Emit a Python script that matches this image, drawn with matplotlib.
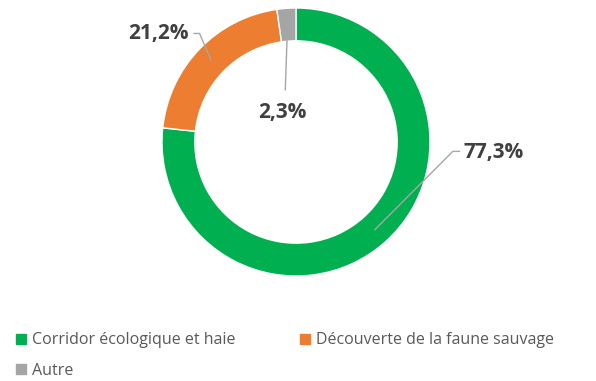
import matplotlib.pyplot as plt
import numpy as np
from matplotlib.lines import Line2D

categories = ['Corridor écologique et haie', 'Découverte de la faune sauvage', 'Autre']
values = [77.3, 21.2, 2.3]
labels = ['77,3%', '21,2%', '2,3%']
colors = ['#00B050', '#ED7D31', '#A5A5A5']

plt.rcParams['font.family'] = ['Open Sans', 'DejaVu Sans']

fig = plt.figure(figsize=(5.96, 3.81), dpi=100)
ax = fig.add_axes([162 / 596, 105 / 381, 268 / 596, 268 / 381])

wedges, _ = ax.pie(values, colors=colors, startangle=90, counterclock=False,
                   radius=1, wedgeprops=dict(width=0.245, edgecolor='white', linewidth=1))
ax.set_xlim(-1, 1)
ax.set_ylim(-1, 1)
ax.set_aspect('equal')
ax.axis('off')

# leader lines: elbow, end point and text placement per slice
leaders = [
    dict(elbow=(1.17, -0.07), end=(1.22, -0.07), text=(1.25, -0.08), ha='left'),
    dict(elbow=(-0.72, 0.81), end=(-0.76, 0.81), text=(-0.80, 0.81), ha='right'),
    dict(elbow=(-0.08, 0.39), end=(-0.08, 0.39), text=(-0.10, 0.22), ha='center'),
]
line_col = '#A6A6A6'
for w, lab, ld in zip(wedges, labels, leaders):
    mid = np.deg2rad((w.theta1 + w.theta2) / 2)
    r = 0.88
    x0, y0 = r * np.cos(mid), r * np.sin(mid)
    ex, ey = ld['elbow']
    nx, ny = ld['end']
    ax.plot([x0, ex, nx], [y0, ey, ny], color=line_col, lw=1, clip_on=False)
    ax.text(ld['text'][0], ld['text'][1], lab, ha=ld['ha'], va='center',
            fontsize=15, fontweight='bold', color='#404040', clip_on=False)

handles = [Line2D([0], [0], marker='s', linestyle='none', markersize=7,
                  markerfacecolor=c, markeredgecolor=c) for c in colors]
# reorder so that the third entry falls under the first column
order = [0, 2, 1]
fig.legend([handles[i] for i in order], [categories[i] for i in order],
           loc='upper left', bbox_to_anchor=(2 / 596, 1 - 318 / 381), ncol=2,
           frameon=False, fontsize=11.5, labelcolor='#595959',
           handlelength=0.6, handletextpad=0.4, columnspacing=4.0, labelspacing=0.9)

fig.savefig('out.png', dpi=100, facecolor='white')
